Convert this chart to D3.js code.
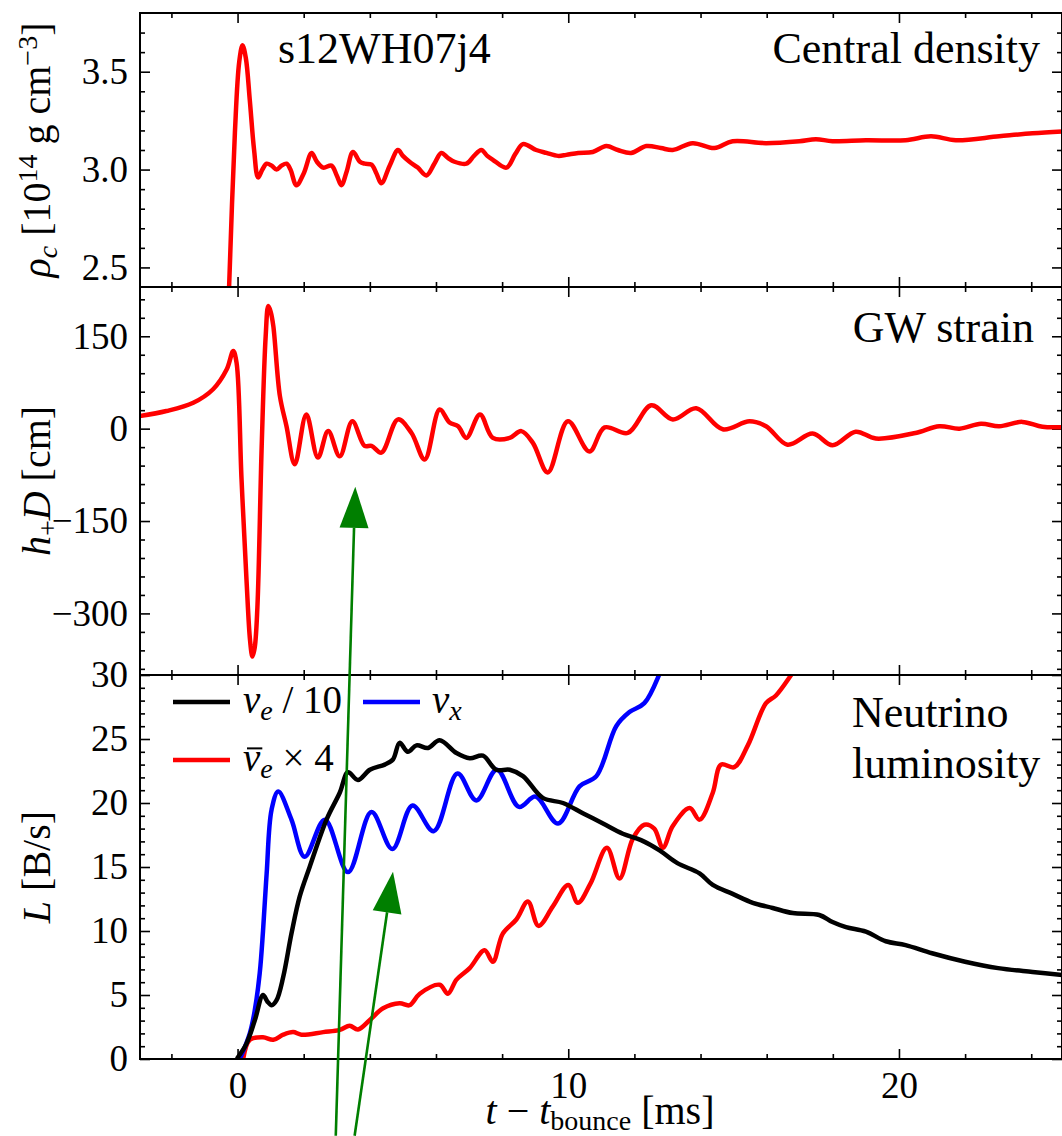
<!DOCTYPE html>
<html><head><meta charset="utf-8">
<script src="https://cdn.jsdelivr.net/npm/d3@7"></script>
<style>
body{margin:0;background:#fff}
svg{display:block}
text{font-family:"Liberation Serif","DejaVu Serif",serif;fill:#000}
</style>
</head><body>
<svg id="c" width="1062" height="1136"></svg>
<script>
// ---------------- DATA ----------------
// time after bounce [ms], central density [1e14 g/cm^3]
const densityData = [[-0.26,2.38],[-0.08,3.19],[0.05,3.55],[0.15,3.635],[0.25,3.57],[0.37,3.355],[0.5,3.10],[0.62,2.96],[0.75,3.00],[0.88,3.03],[1.03,3.02],[1.18,3.0],[1.33,3.02],[1.48,3.03],[1.6,3.0],[1.78,2.92],[2.0,2.98],[2.24,3.085],[2.4,3.04],[2.59,3.01],[2.84,3.02],[3.0,2.97],[3.14,2.92],[3.3,2.99],[3.49,3.09],[3.7,3.04],[3.85,3.03],[4.05,3.025],[4.2,2.98],[4.35,2.93],[4.6,3.02],[4.85,3.10],[5.0,3.07],[5.2,3.04],[5.45,3.01],[5.71,2.97],[5.95,3.03],[6.16,3.085],[6.36,3.06],[6.56,3.04],[6.92,3.03],[7.15,3.07],[7.37,3.10],[7.55,3.07],[7.72,3.05],[8.13,3.01],[8.4,3.08],[8.63,3.13],[9.03,3.10],[9.34,3.085],[9.69,3.07],[9.94,3.075],[10.3,3.085],[10.74,3.09],[11.15,3.12],[11.5,3.10],[11.9,3.085],[12.36,3.12],[12.8,3.11],[13.16,3.10],[13.76,3.135],[14.42,3.11],[14.97,3.145],[15.98,3.135],[16.99,3.145],[17.49,3.155],[17.99,3.145],[19.0,3.15],[20.2,3.15],[20.97,3.17],[21.72,3.15],[23.03,3.17],[24.04,3.185],[25.0,3.195]];

// GW strain h+ D [cm]
const strainData = [[-3,20],[-2.15,28.6],[-1.34,42],[-0.74,64],[-0.33,96],[-0.13,126],[-0.03,107],[0.12,-82],[0.27,-245],[0.38,-345],[0.45,-370],[0.52,-355],[0.6,-290],[0.73,-28],[0.85,150],[0.93,199],[1.0,190],[1.08,167],[1.28,53],[1.48,4],[1.73,-58],[2.08,23],[2.43,-47],[2.74,-4],[3.09,-45],[3.47,12],[3.84,-28],[4.05,-28],[4.35,-39],[4.85,15],[5.26,-7],[5.66,-50],[6.11,31],[6.41,10],[6.67,4],[6.92,-15],[7.33,23],[7.72,-15],[8.23,-15],[8.58,-4],[8.93,-23],[9.38,-71],[9.99,12],[10.64,-37],[11.1,2],[11.8,-7],[12.51,38],[13.16,15],[13.87,33],[14.67,-1],[15.48,12],[15.98,4],[16.63,-26],[17.39,-8],[17.99,-27],[18.69,-5],[19.3,-16],[20.5,-7],[21.22,4],[21.83,0],[22.48,8],[23.03,4],[23.73,11],[24.34,3],[25,2.6]];

// neutrino luminosities [B/s]
const nueData = [[0,0.1],[0.27,1.2],[0.52,3.0],[0.77,5.0],[0.9,4.5],[1.03,4.2],[1.18,4.6],[1.38,6.4],[1.63,9.8],[1.88,12.7],[2.18,15.0],[2.69,18.7],[3.09,20.8],[3.34,22.4],[3.64,21.8],[4.0,22.6],[4.45,23.0],[4.7,23.4],[4.9,24.7],[5.15,24.0],[5.41,24.5],[5.76,24.3],[6.11,24.9],[6.62,23.9],[7.02,23.5],[7.42,23.7],[7.82,22.6],[8.23,22.6],[8.63,22.1],[9.23,20.4],[9.84,20.0],[10.44,19.2],[11.05,18.4],[11.65,17.6],[12.2,17.1],[12.76,16.3],[13.3,15.3],[13.97,14.5],[14.37,13.6],[14.97,12.9],[15.58,12.2],[16.18,11.8],[16.79,11.4],[17.59,11.25],[17.99,10.7],[18.4,10.3],[19.0,9.95],[19.6,9.2],[20.2,8.9],[21.0,8.26],[22.0,7.6],[23.0,7.1],[24.04,6.8],[25,6.55]];
const nuxData = [[0.07,0],[0.37,2.0],[0.52,3.8],[0.67,6.7],[0.77,10],[0.88,14.5],[1.03,19.5],[1.23,20.9],[1.63,18.7],[2.03,15.8],[2.64,18.7],[3.34,14.6],[4.05,19.3],[4.68,16.4],[5.29,19.8],[5.93,17.8],[6.65,22.3],[7.22,20.2],[7.84,22.6],[8.51,19.7],[9.01,20.5],[9.69,18.4],[10.34,21.3],[10.85,22.1],[11.45,26],[11.85,27.1],[12.3,27.8],[12.76,30.1],[12.95,31.5]];
const anueData = [[0.17,0],[0.37,1.5],[0.77,1.7],[1.08,1.5],[1.38,1.9],[1.68,2.1],[1.93,1.9],[2.59,2.1],[3.09,2.27],[3.39,2.6],[3.64,2.3],[4.0,3.05],[4.4,3.96],[4.9,4.35],[5.2,4.2],[5.51,5.1],[6.11,5.8],[6.36,5.1],[6.62,6.2],[7.02,7.1],[7.47,8.5],[7.72,7.6],[8.02,9.8],[8.43,10.9],[8.78,12.3],[9.1,10.4],[9.53,11.9],[10.0,13.6],[10.29,12.2],[10.67,13.7],[11.17,16.5],[11.55,14.1],[11.95,17.2],[12.3,18.3],[12.6,18.0],[12.86,16.5],[13.16,18.2],[13.67,19.6],[13.97,18.7],[14.37,20.8],[14.62,23.0],[15.02,22.8],[15.43,24.5],[15.98,27.8],[16.28,28.4],[16.74,30],[17.0,31]];

// ticks
const xMajor = [0,10,20];
const xMinor = [-2,2,4,6,8,12,14,16,18,22,24];
const rhoMajor = [2.5,3.0,3.5];
const rhoMinor = [2.6,2.7,2.8,2.9,3.1,3.2,3.3,3.4,3.6,3.7];
const hMajor = [-300,-150,0,150];
const hMinor = [-390,-360,-330,-270,-240,-210,-180,-120,-90,-60,-30,30,60,90,120,180,210];
const lumMajor = [0,5,10,15,20,25,30];
const lumMinor = d3.range(1,30).filter(v=>v%5!==0);

// annotation arrows (tail, tip) in luminosity-panel data coordinates
const arrows = [
  {tail:[2.97,-6.0], tip:[3.56,44.7]},
  {tail:[3.54,-6.0], tip:[4.70,14.63]}
];

// ---------------- DRAW ----------------
const svg = d3.select("#c");
const x = d3.scaleLinear().domain([-2.95,24.93]).range([140,1062]);
const yRho = d3.scaleLinear().domain([2.4,3.8]).range([287,13]);
const yH = d3.scaleLinear().domain([-400,230]).range([675,287]);
const yL = d3.scaleLinear().domain([0,30]).range([1059,675]);

const panels = [
  {y:yRho, major:rhoMajor, minor:rhoMinor, fmt:d3.format(".1f"), id:"p1"},
  {y:yH, major:hMajor, minor:hMinor, fmt:d3.format("d"), id:"p2"},
  {y:yL, major:lumMajor, minor:lumMinor, fmt:d3.format("d"), id:"p3"}
];

const defs = svg.append("defs");
const TICKFONT = 37;

function styleAxis(g){
  g.select(".domain").remove();
  g.selectAll(".tick line").attr("stroke","#000").attr("stroke-width",1.6);
  g.selectAll(".tick text").style("font-size",TICKFONT+"px").attr("fill","#000");
}

panels.forEach((p,i)=>{
  const [y0,y1] = p.y.range(); // bottom, top
  defs.append("clipPath").attr("id","clip-"+p.id).append("rect")
    .attr("x",x.range()[0]).attr("y",y1).attr("width",x.range()[1]-x.range()[0]).attr("height",y0-y1);

  svg.append("g").attr("transform",`translate(${x.range()[0]},0)`)
    .call(d3.axisLeft(p.y).tickValues(p.major).tickSize(-10).tickPadding(12).tickFormat(p.fmt)).call(styleAxis);
  svg.append("g").attr("transform",`translate(${x.range()[0]},0)`)
    .call(d3.axisLeft(p.y).tickValues(p.minor).tickSize(-5).tickFormat("")).call(styleAxis);
  svg.append("g").attr("transform",`translate(${x.range()[1]},0)`)
    .call(d3.axisRight(p.y).tickValues(p.major).tickSize(-10).tickFormat("")).call(styleAxis);
  svg.append("g").attr("transform",`translate(${x.range()[1]},0)`)
    .call(d3.axisRight(p.y).tickValues(p.minor).tickSize(-5).tickFormat("")).call(styleAxis);
  svg.append("g").attr("transform",`translate(0,${y1})`)
    .call(d3.axisTop(x).tickValues(xMajor).tickSize(-10).tickFormat("")).call(styleAxis);
  svg.append("g").attr("transform",`translate(0,${y1})`)
    .call(d3.axisTop(x).tickValues(xMinor).tickSize(-5).tickFormat("")).call(styleAxis);
  svg.append("g").attr("transform",`translate(0,${y0})`)
    .call(d3.axisBottom(x).tickValues(xMajor).tickSize(-10).tickPadding(13)
      .tickFormat(i===2 ? d3.format("d") : "")).call(styleAxis);
  svg.append("g").attr("transform",`translate(0,${y0})`)
    .call(d3.axisBottom(x).tickValues(xMinor).tickSize(-5).tickFormat("")).call(styleAxis);
});

function drawLine(data, y, clipId, color){
  const line = d3.line().x(d=>x(d[0])).y(d=>y(d[1])).curve(d3.curveCatmullRom.alpha(0.5));
  svg.append("path").datum(data).attr("d",line)
    .attr("clip-path",`url(#clip-${clipId})`)
    .attr("fill","none").attr("stroke",color).attr("stroke-width",4.5)
    .attr("stroke-linejoin","round").attr("stroke-linecap","round");
}
drawLine(densityData, yRho, "p1", "#ff0000");
drawLine(strainData, yH, "p2", "#ff0000");
drawLine(anueData, yL, "p3", "#ff0000");
drawLine(nuxData, yL, "p3", "#0000ff");
drawLine(nueData, yL, "p3", "#000000");

panels.forEach(p=>{
  const [y0,y1] = p.y.range();
  svg.append("rect").attr("x",x.range()[0]).attr("y",y1)
    .attr("width",x.range()[1]-x.range()[0]).attr("height",y0-y1)
    .attr("fill","none").attr("stroke","#000").attr("stroke-width",2);
});

// annotations
const ANN = 44;
svg.append("text").attr("x",278).attr("y",63).style("font-size",ANN+"px").text("s12WH07j4");
svg.append("text").attr("x",1040).attr("y",63).attr("text-anchor","end").style("font-size",ANN+"px").text("Central density");
svg.append("text").attr("x",1034).attr("y",342).attr("text-anchor","end").style("font-size",ANN+"px").text("GW strain");
svg.append("text").attr("x",852).attr("y",727).style("font-size",ANN+"px").text("Neutrino");
svg.append("text").attr("x",852).attr("y",778).style("font-size",ANN+"px").text("luminosity");

// legend
const LEG = 39;
const legendItems = [
  {color:"#000", x1:173, y:702, tx:243, bar:false, parts:[["ν","italic",0],["e","italic",1],[" / 10","normal",0]]},
  {color:"#0000ff", x1:363, y:702, tx:432, bar:false, parts:[["ν","italic",0],["x","italic",1]]},
  {color:"#ff0000", x1:173, y:760, tx:243, bar:true, parts:[["ν","italic",0],["e","italic",1],[" × 4","normal",0]]}
];
legendItems.forEach(it=>{
  svg.append("line").attr("x1",it.x1).attr("x2",it.x1+57).attr("y1",it.y).attr("y2",it.y)
    .attr("stroke",it.color).attr("stroke-width",4.5);
  const base = it.y+11;
  const t = svg.append("text").attr("x",it.tx).attr("y",base).style("font-size",LEG+"px");
  it.parts.forEach(([s,st,sub],k)=>{
    const ts = t.append("tspan").text(s).style("font-style",st);
    if(sub){ ts.attr("dy","0.25em").style("font-size","0.72em"); }
    else if(k>0){ ts.attr("dy","-0.18em"); }
  });
  if(it.bar){
    const ext = t.node().getExtentOfChar(0);
    svg.append("line").attr("x1",ext.x+4).attr("x2",ext.x+ext.width+2)
      .attr("y1",base-0.58*LEG).attr("y2",base-0.58*LEG)
      .attr("stroke","#000").attr("stroke-width",2);
  }
});

// axis labels
const LAB = 40;
function ylab(cy, build){
  const t = svg.append("text").attr("transform",`translate(50,${cy}) rotate(-90)`)
    .attr("text-anchor","middle").style("font-size",LAB+"px");
  build(t);
}
ylab(150, t=>{
  t.append("tspan").text("ρ").style("font-style","italic");
  t.append("tspan").text("c").style("font-style","italic").style("font-size","0.7em").attr("dy","0.25em");
  t.append("tspan").text(" [10").attr("dy","-0.18em");
  t.append("tspan").text("14").style("font-size","0.7em").attr("dy","-0.45em");
  t.append("tspan").text(" g cm").attr("dy","0.32em");
  t.append("tspan").text("−3").style("font-size","0.7em").attr("dy","-0.45em");
  t.append("tspan").text("]").attr("dy","0.32em");
});
ylab(481, t=>{
  t.append("tspan").text("h").style("font-style","italic");
  t.append("tspan").text("+").style("font-size","0.7em").attr("dy","0.25em");
  t.append("tspan").text("D").style("font-style","italic").attr("dy","-0.18em");
  t.append("tspan").text(" [cm]");
});
ylab(867, t=>{
  t.append("tspan").text("L").style("font-style","italic");
  t.append("tspan").text(" [B/s]");
});
{
  const t = svg.append("text").attr("x",600).attr("y",1124).attr("text-anchor","middle").style("font-size",LAB+"px");
  t.append("tspan").text("t").style("font-style","italic");
  t.append("tspan").text(" − ");
  t.append("tspan").text("t").style("font-style","italic");
  t.append("tspan").text("bounce").style("font-size","0.7em").attr("dy","0.22em");
  t.append("tspan").text(" [ms]").attr("dy","-0.154em");
}

// green arrows
const ag = svg.append("g");
arrows.forEach(a=>{
  const tx = x(a.tail[0]), ty = yL(a.tail[1]);
  const px = x(a.tip[0]), py = yL(a.tip[1]);
  const dx = px-tx, dy = py-ty, len = Math.hypot(dx,dy);
  const ux = dx/len, uy = dy/len;
  const hl = 41, hw = 14.5;
  const bx = px-ux*hl, by = py-uy*hl;
  ag.append("line").attr("x1",tx).attr("y1",ty).attr("x2",bx).attr("y2",by)
    .attr("stroke","#007f00").attr("stroke-width",2.6);
  ag.append("path").attr("d",`M${px},${py}L${bx-uy*hw},${by+ux*hw}L${bx+uy*hw},${by-ux*hw}Z`)
    .attr("fill","#007f00");
});
</script>
</body></html>
